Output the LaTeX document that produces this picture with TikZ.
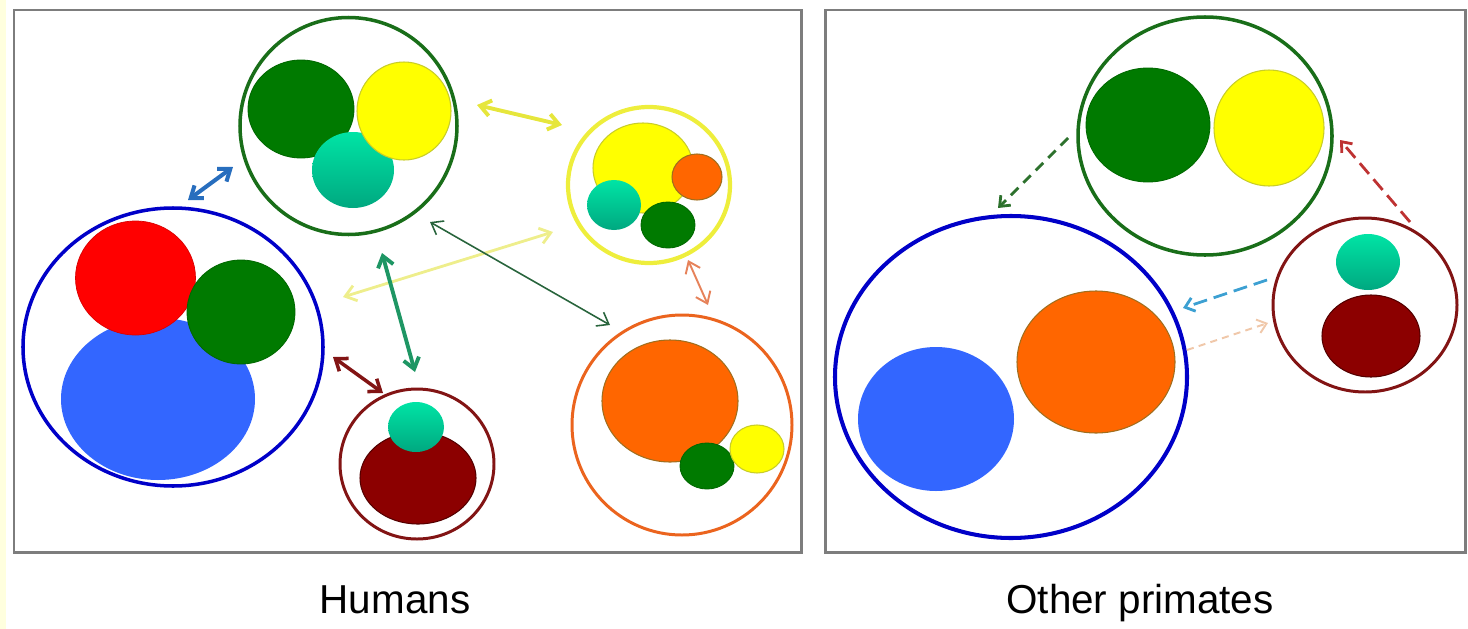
\documentclass[tikz,border=0pt]{standalone}
\usepackage{fontspec}
\setmainfont{Liberation Sans}
\usetikzlibrary{arrows.meta}
\definecolor{cVert}{RGB}{0,122,0}
\definecolor{cJaune}{RGB}{255,255,0}
\definecolor{cSarcelleH}{RGB}{0,228,165}
\definecolor{cSarcelleB}{RGB}{0,168,128}
\definecolor{cRouge}{RGB}{255,0,0}
\definecolor{cBleu}{RGB}{51,102,255}
\definecolor{cOrange}{RGB}{255,102,0}
\definecolor{cBordeaux}{RGB}{140,0,0}
\definecolor{cBordJaune}{RGB}{200,205,40}
\definecolor{cBordOrange}{RGB}{160,110,30}
\definecolor{cCadre}{RGB}{125,125,125}
\definecolor{cMarge}{RGB}{255,255,222}
\definecolor{aVert}{RGB}{25,110,25}
\definecolor{aBleu}{RGB}{0,0,200}
\definecolor{aJaune}{RGB}{238,238,60}
\definecolor{aOrange}{RGB}{235,100,30}
\definecolor{aBordeaux}{RGB}{130,20,20}
\definecolor{fBleu}{RGB}{40,110,190}
\definecolor{fJaune}{RGB}{230,230,60}
\definecolor{fPaille}{RGB}{238,238,140}
\definecolor{fSapin}{RGB}{40,100,60}
\definecolor{fMenthe}{RGB}{30,150,100}
\definecolor{fBordeaux}{RGB}{130,20,20}
\definecolor{fSaumon}{RGB}{230,130,90}
\definecolor{fSaumonPale}{RGB}{240,200,170}
\definecolor{fCiel}{RGB}{60,160,210}
\definecolor{fRouge}{RGB}{190,50,50}
\tikzset{
  tVert/.style={fill=cVert, draw=cVert!85!black, line width=0.5pt},
  tJaune/.style={fill=cJaune, draw=cBordJaune, line width=0.6pt},
  tSarcelle/.style={top color=cSarcelleH, bottom color=cSarcelleB},
  tRouge/.style={fill=cRouge, draw=cRouge!85!black, line width=0.4pt},
  tBleu/.style={fill=cBleu},
  tOrange/.style={fill=cOrange, draw=cBordOrange, line width=0.6pt},
  tBordeaux/.style={fill=cBordeaux, draw=cBordeaux!60!black, line width=0.6pt},
  panneau/.style={draw=cCadre, line width=1.7pt},
  fleche/.style={{Straight Barb[length=6pt,width=9pt]}-{Straight Barb[length=6pt,width=9pt]}, line width=#1},
  fleche/.default=2pt,
  pointille/.style={-{Straight Barb[length=5pt,width=8pt]}, dashed, line width=#1},
  pointille/.default=1.6pt,
}

\begin{document}
\begin{tikzpicture}[x=0.02cm, y=-0.02cm]
  \useasboundingbox (0,0) rectangle (1468,629);
  \fill[cMarge] (0,0) rectangle (6,629);
  % cadres
  \draw[panneau] (14,10) rectangle (801,552);
  \draw[panneau] (825,10) rectangle (1465,552);
  % taches colorees (humains puis autres primates)
  \foreach \cx/\cy/\rx/\ry/\sty in {
      301/109/53/49/tVert, 353/170/41/38/tSarcelle, 404/111/47/49/tJaune,
      158/399/97/81/tBleu, 135.5/278/60/57/tRouge, 241/312/54/52/tVert,
      643/168/50/45/tJaune, 697/177/25/23/tOrange, 614/205/27/25/tSarcelle, 668/225/27/23/tVert,
      670/401/68/61/tOrange, 707/466/27/23/tVert, 757/449/27/24/tJaune,
      418/478/58/46/tBordeaux, 416/427/28/25/tSarcelle,
      1148/125/62/57/tVert, 1269/128/55/58/tJaune,
      936/419/78/72/tBleu, 1096/362/79/71/tOrange,
      1371/336/49/41/tBordeaux, 1368/262/32/28/tSarcelle} {
    \path[\sty] (\cx,\cy) ellipse [x radius=\rx, y radius=\ry];
  }
  % anneaux des groupes
  \foreach \cx/\cy/\rx/\ry/\coul/\ep in {
      348.5/126/108.5/108.5/aVert/2pt, 173/347/150/139/aBleu/2pt,
      649/185/81/78/aJaune/2.4pt, 682/425/110/110/aOrange/1.7pt,
      417/464/77/75/aBordeaux/1.7pt,
      1205/136/127/119/aVert/2pt, 1011/377/176/161/aBleu/2.3pt,
      1365/305/92/87/aBordeaux/1.7pt} {
    \draw[\coul, line width=\ep] (\cx,\cy) ellipse [x radius=\rx, y radius=\ry];
  }
  % extremites des fleches
  \foreach \nom/\px/\py in {
      b1/188/200, b2/233/167, y1/477/105, y2/562/125,
      p1/343/297, p2/553/232, g1/430/222, g2/610/325,
      m1/382/253, m2/415/372, r1/333/357, r2/383/393,
      s1/688/260, s2/708/305,
      d1/1068/138, d2/998/208, e1/1410/222, e2/1340/140,
      c1/1267/280, c2/1183/308, f1/1187/350, f2/1268/323} {
    \coordinate (\nom) at (\px,\py);
  }
  % echanges chez les humains
  \draw[fleche=2.3pt, fBleu] (b1) -- (b2);
  \draw[fleche=2.2pt, fJaune] (y1) -- (y2);
  \draw[fleche=1.6pt, fPaille] (p1) -- (p2);
  \draw[fleche=0.9pt, fSapin] (g1) -- (g2);
  \draw[fleche=2.2pt, fMenthe] (m1) -- (m2);
  \draw[fleche=2pt, fBordeaux] (r1) -- (r2);
  \draw[fleche=1.1pt, fSaumon] (s1) -- (s2);
  % chez les autres primates
  \draw[pointille, aVert!80!gray, dash pattern=on 6pt off 4pt] (d1) -- (d2);
  \draw[pointille, fRouge, dash pattern=on 8pt off 4pt] (e1) -- (e2);
  \draw[pointille, fCiel, dash pattern=on 8pt off 4pt] (c1) -- (c2);
  \draw[pointille=1.1pt, fSaumonPale, dash pattern=on 4pt off 3pt] (f1) -- (f2);
  % legendes
  \node[anchor=base, font=\fontsize{23}{28}\selectfont] (humains) at (395,613) {Humans};
  \node[anchor=base, font=\fontsize{23}{28}\selectfont] (primates) at (1140,613) {Other primates};
\end{tikzpicture}
\end{document}
